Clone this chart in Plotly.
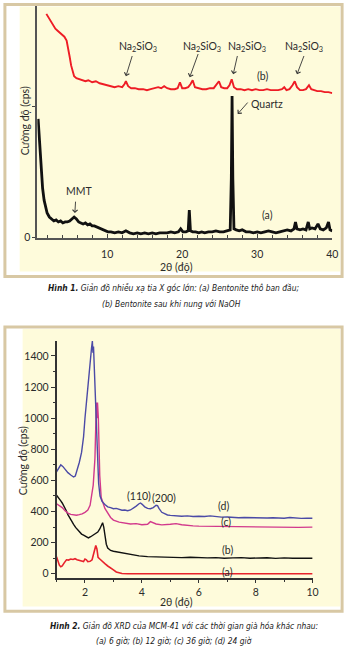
import plotly.graph_objects as go

W, H = 353, 655
def px(x): return x / W
def py(y): return 1 - y / H

# ---------------- Figure 1 data (2θ, arbitrary intensity) ----------------
f1_a_x = [0.8, 1.0, 1.2, 1.4, 1.6, 1.8, 2.0, 2.3, 2.6, 2.9, 3.2, 3.5, 3.8, 4.1, 4.4, 4.7, 5.0, 5.3, 5.6, 5.9,
          6.2, 6.5, 6.8, 7.1, 7.4, 7.7, 8.0, 8.3, 8.6, 8.9, 9.2, 9.5, 9.8, 10.1, 10.5, 11.0, 11.5, 12.0, 12.5, 13.0,
          13.5, 14.0, 14.5, 15.0, 15.5, 16.0, 16.5, 17.0, 17.5, 18.0, 18.5, 19.0, 19.5, 19.8, 20.1, 20.5, 20.8, 20.95, 21.1, 21.4,
          21.8, 22.2, 22.6, 23.0, 23.5, 24.0, 24.5, 25.0, 25.5, 26.0, 26.4, 26.55, 26.65, 26.75, 26.9, 27.2, 27.6, 28.0, 28.5, 29.0,
          29.5, 30.0, 30.5, 31.0, 31.5, 32.0, 32.5, 33.0, 33.5, 34.0, 34.5, 34.9, 35.1, 35.3, 35.7, 36.1, 36.5, 36.8, 37.0, 37.3,
          37.7, 38.1, 38.4, 38.8, 39.2, 39.5, 39.7, 40.0]
f1_a_y = [120, 95, 70, 50, 38, 30, 25, 21, 19, 17, 18, 16, 17, 15, 16, 16, 17, 19, 21, 19,
          16, 15, 14, 15, 13, 14, 12, 12, 11, 10, 9, 8, 7, 6, 6, 5, 6, 5, 7, 5,
          4, 5, 4, 5, 4, 5, 4, 5, 5, 5, 6, 5, 6, 9, 6, 6, 7, 28, 7, 6,
          6, 5, 6, 5, 6, 6, 7, 6, 6, 7, 8, 60, 143, 60, 9, 8, 7, 8, 6, 6,
          5, 6, 5, 6, 7, 6, 5, 6, 7, 8, 7, 9, 16, 9, 8, 9, 8, 16, 9, 10,
          9, 14, 9, 8, 10, 16, 8, 7]
f1_b_x = [1.9, 2.2, 2.5, 2.8, 3.1, 3.4, 3.7, 4.0, 4.3, 4.6, 4.8, 5.0, 5.2, 5.4, 5.6, 5.9, 6.3, 6.7, 7.1, 7.5,
          8.0, 8.5, 9.0, 9.5, 10.0, 10.5, 11.0, 11.5, 12.0, 12.3, 12.5, 12.8, 13.2, 13.7, 14.2, 14.8, 15.3, 15.8, 16.3, 16.8,
          17.2, 17.6, 18.0, 18.5, 19.0, 19.4, 19.7, 20.0, 20.4, 20.8, 21.1, 21.4, 21.7, 22.2, 22.7, 23.2, 23.7, 24.2, 24.6, 24.9,
          25.2, 25.6, 26.0, 26.3, 26.6, 26.9, 27.3, 27.8, 28.3, 28.8, 29.3, 29.8, 30.3, 30.8, 31.3, 31.8, 32.3, 32.8, 33.3, 33.6,
          33.9, 34.3, 34.7, 35.0, 35.3, 35.7, 36.1, 36.5, 36.9, 37.2, 37.6, 38.0, 38.5, 39.0, 39.5, 40.0]
f1_b_y = [226, 222, 218, 215, 211, 209, 207, 205, 203, 199, 192, 183, 174, 167, 163, 161, 160, 159, 158, 159,
          157, 158, 156, 155, 154, 153, 152, 153, 152, 155, 158, 153, 151, 151, 150, 150, 149, 150, 151, 152,
          151, 153, 151, 150, 150, 151, 157, 151, 151, 152, 155, 159, 152, 151, 150, 150, 151, 151, 155, 158,
          152, 151, 151, 154, 160, 152, 150, 150, 149, 150, 149, 150, 149, 149, 150, 149, 149, 149, 150, 152,
          149, 150, 154, 158, 152, 149, 149, 150, 154, 150, 149, 148, 148, 147, 147, 146]
f1_xticks = [10, 20, 30, 40]

# ---------------- Figure 2 data (2θ, cps) ----------------
f2_d_x = [1.0, 1.08, 1.15, 1.22, 1.3, 1.4, 1.5, 1.6, 1.66, 1.72, 1.8, 1.88, 1.95, 2.0, 2.06, 2.12, 2.18, 2.23, 2.26, 2.28,
          2.3, 2.33, 2.36, 2.4, 2.44, 2.48, 2.53, 2.6, 2.7, 2.8, 2.9, 3.0, 3.1, 3.2, 3.3, 3.4, 3.5, 3.6, 3.7, 3.8,
          3.9, 3.95, 4.0, 4.1, 4.2, 4.3, 4.4, 4.5, 4.55, 4.6, 4.7, 4.8, 4.9, 5.0, 5.2, 5.4, 5.6, 5.8, 6.0, 6.2,
          6.4, 6.6, 6.8, 7.0, 7.2, 7.4, 7.6, 7.8, 8.0, 8.2, 8.4, 8.6, 8.8, 9.0, 9.2, 9.4, 9.6, 9.8, 10.0]
f2_d_y = [655, 680, 700, 690, 672, 650, 635, 622, 628, 660, 715, 780, 880, 1000, 1130, 1250, 1370, 1450, 1495, 1420,
          1460, 1320, 1160, 950, 750, 580, 500, 465, 445, 430, 425, 418, 420, 412, 408, 410, 405, 410, 420, 435,
          450, 455, 448, 430, 420, 418, 425, 440, 438, 420, 395, 385, 378, 375, 372, 370, 372, 368, 370, 368,
          372, 366, 364, 365, 362, 360, 362, 360, 358, 359, 358, 360, 358, 357, 362, 357, 356, 357, 357]
f2_c_x = [1.0, 1.1, 1.2, 1.3, 1.4, 1.5, 1.6, 1.7, 1.8, 1.9, 2.0, 2.1, 2.18, 2.29, 2.35, 2.38, 2.4, 2.42, 2.44, 2.47,
          2.49, 2.52, 2.57, 2.7, 2.9, 3.0, 3.2, 3.4, 3.6, 3.8, 4.0, 4.2, 4.3, 4.5, 4.7, 5.0, 5.2, 5.4, 5.6, 5.8,
          6.0, 6.5, 7.0, 7.5, 8.0, 8.5, 9.0, 9.5, 10.0]
f2_c_y = [450, 440, 425, 405, 390, 382, 378, 376, 380, 385, 395, 410, 440, 570, 740, 1000, 1100, 1000, 1100, 1000,
          820, 630, 490, 420, 362, 345, 332, 325, 320, 322, 315, 318, 335, 320, 314, 318, 322, 315, 310, 308,
          306, 305, 302, 300, 300, 298, 300, 298, 300]
f2_b_x = [1.0, 1.05, 1.1, 1.15, 1.2, 1.27, 1.33, 1.4, 1.45, 1.5, 1.55, 1.6, 1.67, 1.73, 1.8, 1.88, 1.95, 2.0, 2.05, 2.12,
          2.2, 2.28, 2.36, 2.45, 2.52, 2.58, 2.62, 2.66, 2.7, 2.75, 2.8, 2.9, 3.0, 3.15, 3.3, 3.5, 3.7, 3.9, 4.2, 4.5,
          4.8, 5.1, 5.4, 5.7, 6.0, 6.3, 6.6, 6.9, 7.2, 7.5, 7.8, 8.1, 8.4, 8.7, 9.0, 9.3, 9.6, 10.0]
f2_b_y = [505, 490, 478, 468, 455, 435, 410, 380, 362, 345, 330, 318, 298, 285, 268, 255, 248, 242, 236, 230,
          238, 246, 256, 268, 288, 318, 328, 300, 240, 190, 165, 150, 145, 140, 132, 125, 122, 115, 110, 108,
          106, 105, 104, 106, 103, 102, 104, 100, 102, 104, 100, 101, 103, 99, 102, 100, 101, 100]
f2_a_x = [1.0, 1.05, 1.1, 1.15, 1.2, 1.27, 1.35, 1.42, 1.5, 1.58, 1.65, 1.72, 1.8, 1.88, 1.95, 2.0, 2.05, 2.1, 2.18, 2.25,
          2.3, 2.35, 2.38, 2.42, 2.46, 2.52, 2.6, 2.7, 2.8, 2.9, 3.0, 3.1, 3.2, 3.3, 3.5, 4.0, 5.0, 6.0, 7.0, 8.0,
          9.0, 10.0]
f2_a_y = [110, 85, 55, 45, 50, 70, 90, 88, 95, 92, 97, 90, 85, 80, 78, 95, 90, 78, 80, 90,
          120, 165, 182, 160, 105, 95, 80, 65, 50, 40, 25, 12, 5, 2, 0, 0, 0, 0, 0, 0,
          0, 0]
f2_xticks = [2, 4, 6, 8, 10]
f2_yticks = [0, 200, 400, 600, 800, 1000, 1200, 1400]

BORDER = "#d8c8a4"
PANEL = "#fefbdb"
TXT = "#2b2b2b"
LBL = dict(family="Lato, Open Sans, sans-serif", size=10.5, color=TXT)
CAP = dict(family="Liberation Sans Narrow, DejaVu Sans Condensed, sans-serif", size=8.4, color="#1a1a1a")

fig = go.Figure()
fig.add_trace(go.Scatter(x=f1_a_x, y=f1_a_y, mode="lines", line=dict(color="#111111", width=2.8),
                         xaxis="x", yaxis="y", showlegend=False))
fig.add_trace(go.Scatter(x=f1_b_x, y=f1_b_y, mode="lines", line=dict(color="#ee1c25", width=1.9),
                         xaxis="x", yaxis="y", showlegend=False))
fig.add_trace(go.Scatter(x=f2_a_x, y=f2_a_y, mode="lines", line=dict(color="#e8222c", width=1.6),
                         xaxis="x2", yaxis="y2", showlegend=False))
fig.add_trace(go.Scatter(x=f2_b_x, y=f2_b_y, mode="lines", line=dict(color="#111111", width=1.4),
                         xaxis="x2", yaxis="y2", showlegend=False))
fig.add_trace(go.Scatter(x=f2_c_x, y=f2_c_y, mode="lines", line=dict(color="#d2398c", width=1.4),
                         xaxis="x2", yaxis="y2", showlegend=False))
fig.add_trace(go.Scatter(x=f2_d_x, y=f2_d_y, mode="lines", line=dict(color="#4b4aa6", width=1.4),
                         xaxis="x2", yaxis="y2", showlegend=False))

shapes = [
    dict(type="rect", xref="paper", yref="paper", x0=px(5), x1=px(348), y0=py(279), y1=py(4.5),
         line=dict(color=BORDER, width=3), fillcolor="white", layer="below"),
    dict(type="rect", xref="paper", yref="paper", x0=px(20), x1=px(346), y0=py(274), y1=py(6.5),
         line=dict(width=0), fillcolor=PANEL, layer="below"),
    dict(type="rect", xref="paper", yref="paper", x0=px(5), x1=px(348), y0=py(617), y1=py(330),
         line=dict(color=BORDER, width=3), fillcolor="white", layer="below"),
    dict(type="rect", xref="paper", yref="paper", x0=px(23), x1=px(346), y0=py(612), y1=py(332),
         line=dict(width=0), fillcolor=PANEL, layer="below"),
]

ann = []
def lab(text, x, y, xr="x", yr="y", font=LBL, **kw):
    ann.append(dict(text=text, x=x, y=y, xref=xr, yref=yr, showarrow=False, font=font,
                    xanchor="center", yanchor="middle", **kw))
def arrow(xt, yt, xh, yh, xr="x", yr="y"):
    ann.append(dict(text="", x=xh, y=yh, ax=xt, ay=yt, xref=xr, yref=yr, axref=xr, ayref=yr,
                    showarrow=True, arrowhead=4, arrowsize=1.1, arrowwidth=0.9, arrowcolor="#333"))

na = "Na<sub>2</sub>SiO<sub>3</sub>"
for (lx, tx, ty, hx, hy) in [(14.06, 13.4, 185, 12.5, 163), (22.6, 22.2, 187, 21.0, 162),
                             (28.7, 27.4, 185, 26.8, 165), (36.3, 36.3, 185, 35.3, 165)]:
    lab(na, lx, 193)
    arrow(tx, ty, hx, hy)
lab("(b)", 30.7, 163)
lab("Quartz", 31.3, 135)
arrow(28.9, 138, 27.4, 125)
lab("MMT", 6.2, 47)
arrow(5.8, 38, 5.7, 25)
lab("(a)", 31.35, 23)

lab("(100)", 2.26, 1521, xr="x2", yr="y2")
lab("(110)", 3.91, 503, xr="x2", yr="y2")
lab("(200)", 4.78, 484, xr="x2", yr="y2")
lab("(d)", 6.88, 433, xr="x2", yr="y2")
lab("(c)", 6.95, 331, xr="x2", yr="y2")
lab("(b)", 7.02, 153, xr="x2", yr="y2")
lab("(a)", 7.02, 13, xr="x2", yr="y2")

# axis titles
ann.append(dict(text="Cường độ (cps)", x=px(33), y=py(122), xref="paper", yref="paper", showarrow=False,
                font=LBL, textangle=-90, xanchor="right", yanchor="middle"))
ann.append(dict(text="Cường độ (cps)", x=px(31), y=py(465), xref="paper", yref="paper", showarrow=False,
                font=LBL, textangle=-90, xanchor="right", yanchor="middle"))
lab("2θ (độ)", px(180), py(269), xr="paper", yr="paper")
lab("2θ (độ)", px(180), py(608), xr="paper", yr="paper")

# captions
lab("<b><i>Hình 1.</i></b><i> Giản đồ nhiễu xạ tia X góc lớn: (a) Bentonite thô ban đầu;</i>",
    px(177), py(291), xr="paper", yr="paper", font=CAP)
lab("<i>(b) Bentonite sau khi nung với NaOH</i>", px(174), py(307), xr="paper", yr="paper", font=CAP)
lab("<b><i>Hình 2.</i></b><i> Giản đồ XRD của MCM-41 với các thời gian già hóa khác nhau:</i>",
    px(187), py(632), xr="paper", yr="paper", font=CAP)
lab("<i>(a) 6 giờ; (b) 12 giờ; (c) 36 giờ; (d) 24 giờ</i>", px(177), py(647), xr="paper", yr="paper", font=CAP)

tickfont = dict(family="Lato, Open Sans, sans-serif", size=10.5, color=TXT)
fig.update_layout(
    width=W, height=H, margin=dict(l=0, r=0, t=0, b=0),
    paper_bgcolor="white", plot_bgcolor="rgba(0,0,0,0)",
    shapes=shapes, annotations=ann, showlegend=False,
    xaxis=dict(domain=[px(38), px(338)], range=[0.7, 40], anchor="y",
               tickvals=f1_xticks, ticks="inside", ticklen=4, tickwidth=1, tickcolor="#444",
               minor=dict(dtick=2, tick0=0, ticks="inside", ticklen=3, tickcolor="#444"),
               showline=True, linecolor="#555", linewidth=2, showgrid=False, zeroline=False,
               tickfont=tickfont, ticklabelstandoff=6),
    yaxis=dict(domain=[py(240), py(6)], range=[0, 234], anchor="x",
               tickvals=[0, 133], ticktext=["0", ""], ticks="outside", ticklen=3, tickcolor="#444",
               showline=True, linecolor="#555", linewidth=2, showgrid=False, zeroline=False,
               tickfont=tickfont),
    xaxis2=dict(domain=[px(57.5), px(318)], range=[1, 10], anchor="y2",
                tickvals=f2_xticks, ticks="outside", ticklen=4, tickwidth=1, tickcolor="#333",
                minor=dict(dtick=1, tick0=0, ticks="outside", ticklen=3, tickcolor="#333"),
                showline=True, linecolor="#333", linewidth=1.5, showgrid=False, zeroline=False,
                tickfont=tickfont),
    yaxis2=dict(domain=[py(583), py(344)], range=[-25, 1497], anchor="x2",
                tickvals=f2_yticks, ticks="outside", ticklen=4, tickwidth=1, tickcolor="#333",
                minor=dict(dtick=100, tick0=0, ticks="outside", ticklen=2, tickcolor="#333"),
                showline=True, linecolor="#333", linewidth=1.5, showgrid=False, zeroline=False,
                tickfont=tickfont),
)
fig.write_html("out.html")
